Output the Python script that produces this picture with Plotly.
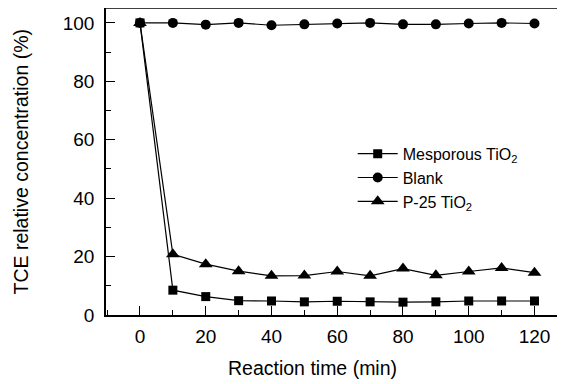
import plotly.graph_objects as go

time_min = [0, 10, 20, 30, 40, 50, 60, 70, 80, 90, 100, 110, 120]
mesoporous = [100, 8.5, 6.3, 4.9, 4.8, 4.5, 4.7, 4.5, 4.4, 4.5, 4.8, 4.8, 4.8]
blank = [100, 100, 99.4, 100, 99.2, 99.5, 99.8, 100, 99.5, 99.5, 99.8, 100, 99.8]
p25 = [100, 20.8, 17.4, 15.0, 13.4, 13.5, 14.9, 13.4, 15.9, 13.6, 14.9, 16.1, 14.5]
series_names = ["Mesporous TiO<sub>2</sub>", "Blank", "P-25 TiO<sub>2</sub>"]
x_ticks = [0, 20, 40, 60, 80, 100, 120]
y_ticks = [0, 20, 40, 60, 80, 100]

FONT = "Arial, 'Liberation Sans', Helvetica, sans-serif"
# page body has an 8px margin, so the figure covers page pixels 8..565 x 8..384
OFF = 8
W, H = 565 - OFF, 384 - OFF
L, R, T = 106 - OFF, 0, 0
B = H - (315.5 - OFF)

fig = go.Figure()
for name, ys, sym, sz in [
    (series_names[0], mesoporous, "square", 9),
    (series_names[1], blank, "circle", 10),
    (series_names[2], p25, "triangle-up", 12),
]:
    fig.add_trace(go.Scatter(
        x=time_min, y=ys, name=name, mode="lines+markers",
        line=dict(color="black", width=1.2),
        marker=dict(symbol=sym, size=sz, color="black"),
    ))

axis_common = dict(
    showgrid=False, zeroline=False, showline=True, linecolor="black", linewidth=1.5,
    ticks="inside", ticklen=9, tickwidth=1.2, tickcolor="black",
    tickfont=dict(family=FONT, size=19, color="black"),
    minor=dict(ticks="inside", ticklen=5, tickwidth=1.2, tickcolor="black", dtick=10),
)
fig.update_xaxes(range=[-10.34, 129.28], tickvals=x_ticks, mirror=False, ticklabelstandoff=3, **axis_common)
fig.update_yaxes(range=[0, 105.1], tickvals=y_ticks, ticklabelstandoff=6, **axis_common)

# top border line
fig.add_shape(type="line", xref="paper", yref="paper", x0=0, x1=1, y0=1, y1=1,
              line=dict(color="black", width=1.5))

pw = W - L - R
ph = H - T - B
fig.add_annotation(text="Reaction time (min)", xref="paper", yref="paper",
                   x=(312 - OFF - L) / pw, y=-(369 - 315.5) / ph, showarrow=False,
                   xanchor="center", yanchor="middle",
                   font=dict(family=FONT, size=19.5, color="black"))
fig.add_annotation(text="TCE relative concentration (%)", xref="paper", yref="paper",
                   x=(20 - OFF - L) / pw, y=0.5, showarrow=False, textangle=-90,
                   xanchor="center", yanchor="middle",
                   font=dict(family=FONT, size=19.5, color="black"))

fig.update_layout(
    width=W, height=H, margin=dict(l=L, r=R, t=T, b=B, pad=0),
    paper_bgcolor="white", plot_bgcolor="white",
    showlegend=True,
    legend=dict(x=(352.7 - OFF - L) / pw, y=(315.5 - 137) / ph, xanchor="left", yanchor="top",
                font=dict(family=FONT, size=16, color="black"),
                bgcolor="rgba(0,0,0,0)", itemwidth=40, tracegroupgap=0),
)

fig.write_html("out.html")
